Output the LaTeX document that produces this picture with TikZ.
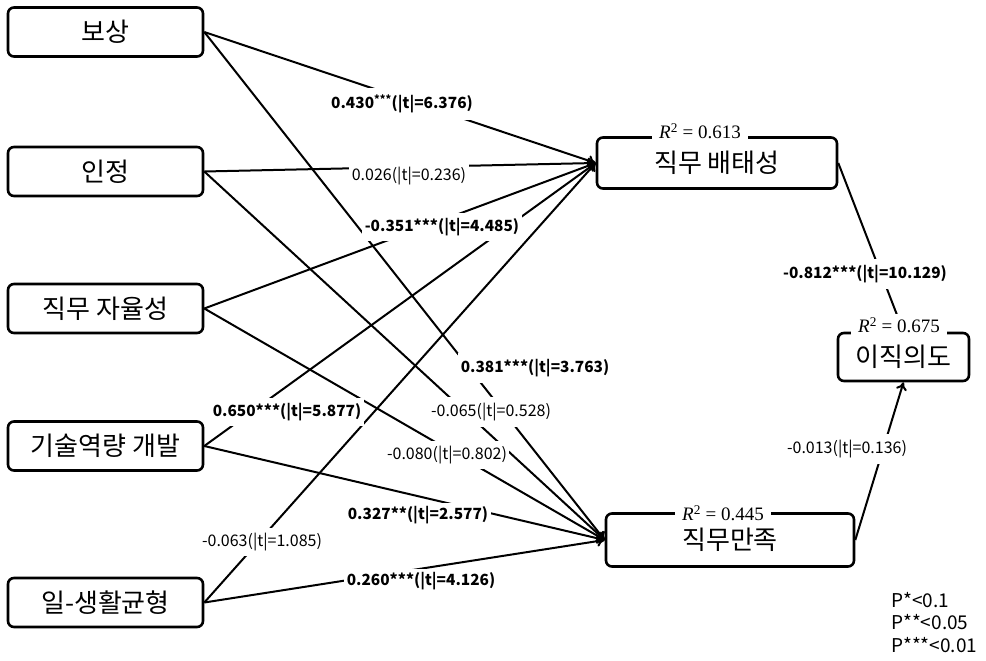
\documentclass[tikz,border=0pt]{standalone}
\usepackage{fontspec}
\setmainfont{Noto Sans CJK KR}
\newfontfamily\rfont{Liberation Serif}
\usetikzlibrary{arrows.meta}
\newcommand{\rsqtext}[1]{{\rfont\textit{R}\textsuperscript{2} = #1}}
\begin{document}
\begin{tikzpicture}[x=1pt,y=-1pt,
  box/.style={draw, line width=2.6pt, rounded corners=6pt, minimum width=195pt, minimum height=49pt, inner sep=0pt, font=\fontsize{26}{28}\selectfont},
  conn/.style={line width=2pt},
  arr/.style={conn, -{To[length=8pt,width=11pt]}},
  lbl/.style={fill=white, inner xsep=2.5pt, inner ysep=3.5pt, font=\fontsize{16}{18}\selectfont},
  blbl/.style={lbl, font=\fontsize{15.4}{17}\selectfont\bfseries},
  rsq/.style={fill=white, inner xsep=7pt, inner ysep=3pt, font=\fontsize{19}{21}\selectfont},
  legend/.style={anchor=base west, inner sep=0pt, font=\fontsize{19}{22}\selectfont},
]
\useasboundingbox (0,0) rectangle (986,661);
% left boxes
\node[box] (b1) at (105.5,32) {보상};
\node[box] (b2) at (105.5,171.5) {인정};
\node[box] (b3) at (105.5,308.5) {직무 자율성};
\node[box] (b4) at (105.5,446) {기술역량 개발};
\node[box] (b5) at (105.5,602.5) {일-생활균형};
% right boxes
\node[box, minimum width=240pt, minimum height=51pt] (E) at (717,163) {직무 배태성};
\node[box, minimum width=248pt, minimum height=53pt] (S) at (730,540) {직무만족};
\node[box, minimum width=131pt, minimum height=48pt] (T) at (903.5,357) {이직의도};
% connectors
\draw[arr] (b1.east) -- (E.west);
\draw[arr] (b1.east) -- (S.west);
\draw[arr] (b2.east) -- (E.west);
\draw[arr] (b2.east) -- (S.west);
\draw[arr] (b3.east) -- (E.west);
\draw[arr] (b3.east) -- (S.west);
\draw[arr] (b4.east) -- (E.west);
\draw[arr] (b4.east) -- (S.west);
\draw[arr] (b5.east) -- (E.west);
\draw[arr] (b5.east) -- (S.west);
\draw[arr] (E.east) -- (T.north);
\draw[arr] (S.east) -- (T.south);
% path labels
\node[blbl, inner ysep=7pt] (l1) at (402,104) {0.430\textsuperscript{***}(|t|=6.376)};
\node[lbl] (l2) at (409,176) {0.026(|t|=0.236)};
\node[blbl, inner ysep=5pt] (l3) at (442,227) {-0.351***(|t|=4.485)};
\node[blbl, inner ysep=6pt] (l4) at (535,368) {0.381***(|t|=3.763)};
\node[blbl, inner ysep=5pt] (l5) at (287,412) {0.650***(|t|=5.877)};
\node[lbl, inner ysep=6pt] (l6) at (491,412) {-0.065(|t|=0.528)};
\node[lbl, inner ysep=5pt] (l7) at (447,455) {-0.080(|t|=0.802)};
\node[blbl] (l8) at (418,515) {0.327**(|t|=2.577)};
\node[lbl, inner ysep=5pt] (l9) at (262,542) {-0.063(|t|=1.085)};
\node[blbl] (l10) at (421,581) {0.260***(|t|=4.126)};
\node[blbl, inner ysep=6pt] (l11) at (865,274) {-0.812***(|t|=10.129)};
\node[lbl, inner ysep=6pt] (l12) at (847,449) {-0.013(|t|=0.136)};
% R squared
\node[rsq] (rE) at (700,131) {\rsqtext{0.613}};
\node[rsq] (rS) at (723,513) {\rsqtext{0.445}};
\node[rsq] (rT) at (899,325) {\rsqtext{0.675}};
% legend
\node[legend] (g1) at (891,607) {P*<0.1};
\node[legend] (g2) at (891,629.5) {P**<0.05};
\node[legend] (g3) at (891,652) {P***<0.01};
\end{tikzpicture}
\end{document}
